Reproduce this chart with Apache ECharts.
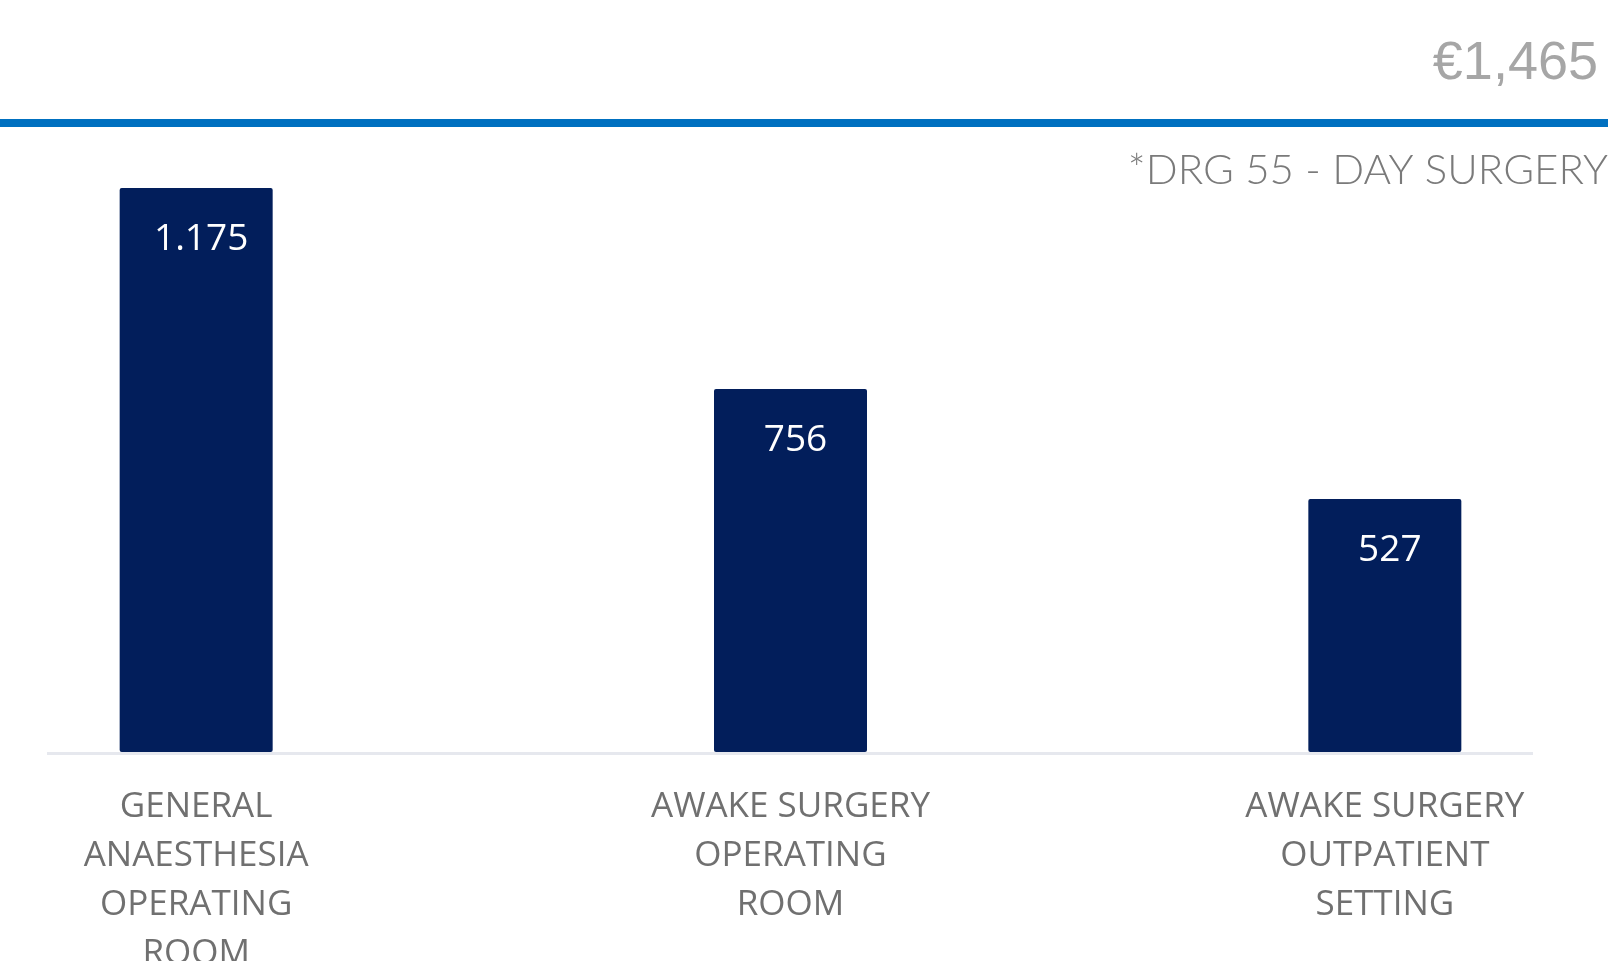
<!DOCTYPE html>
<html>
<head>
<meta charset="utf-8">
<script src="https://cdn.jsdelivr.net/npm/echarts@6/dist/echarts.min.js"></script>
<style>html,body{margin:0;padding:0;background:#fff;}#c{width:1609px;height:961px;}</style>
</head>
<body>
<div id="c"></div>
<script>
const categories = ["GENERAL\nANAESTHESIA\nOPERATING\nROOM", "AWAKE SURGERY\nOPERATING\nROOM", "AWAKE SURGERY\nOUTPATIENT\nSETTING"];
const values = [1175, 756, 527];
const headlineText = "€1,465";
const subtitleText = "*DRG 55 - DAY SURGERY";

function euroFormat(v) {
  return String(v).replace(/\B(?=(\d{3})+(?!\d))/g, ".");
}

const chart = echarts.init(document.getElementById('c'), null, {renderer: 'canvas'});
chart.setOption({
  animation: false,
  backgroundColor: '#ffffff',
  title: [
    {text: headlineText, right: 6, top: 32,
     textStyle: {fontFamily: 'Liberation Sans', fontSize: 54, fontWeight: 'normal', color: '#a6a6a6'}},
    {text: subtitleText, right: -4, top: 144,
     textStyle: {fontFamily: 'Lato', fontSize: 42, fontWeight: 300, color: '#7a7a7a'}}
  ],
  graphic: [
    {type: 'rect', shape: {x: 0, y: 119, width: 1608, height: 8}, style: {fill: '#0070c0'}, silent: true},
    {type: 'rect', shape: {x: 47, y: 752, width: 1486, height: 3}, style: {fill: '#e6e8ee'}, silent: true}
  ],
  grid: {left: -101, width: 1783, top: 188, height: 564, containLabel: false, outerBoundsMode: 'none'},
  xAxis: {
    type: 'category',
    data: categories,
    axisLine: {show: false},
    axisTick: {show: false},
    axisLabel: {interval: 0, margin: 31, fontFamily: 'Open Sans', fontSize: 35, lineHeight: 49, color: '#707070'}
  },
  yAxis: {type: 'value', min: 0, max: 1175, show: false, splitLine: {show: false}},
  series: [{
    type: 'bar',
    data: values,
    barWidth: 153,
    itemStyle: {color: '#021e5b', borderRadius: 2},
    label: {
      show: true, position: 'insideTop', distance: 33, offset: [5, 0],
      formatter: p => euroFormat(p.value),
      fontFamily: 'Open Sans', fontSize: 37, color: '#ffffff'
    }
  }]
});
</script>
</body>
</html>
